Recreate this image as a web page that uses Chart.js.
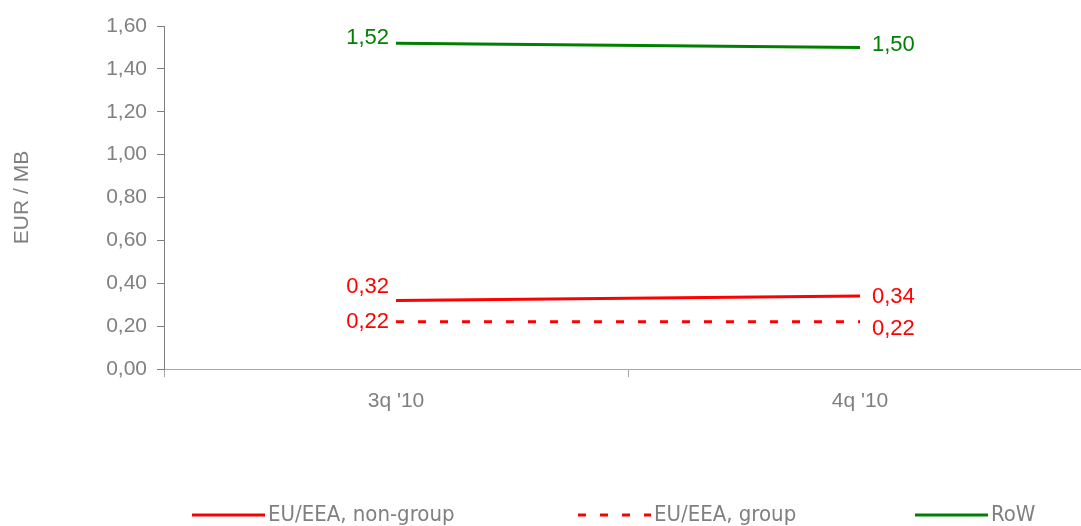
<!DOCTYPE html>
<html>
<head>
<meta charset="utf-8">
<script src="https://cdn.jsdelivr.net/npm/chart.js@4"></script>
<style>
  html, body { margin: 0; padding: 0; background: #fff; overflow: hidden; }
  #wrap { width: 1092px; height: 526px; }
</style>
</head>
<body>
<div id="wrap"><canvas id="chart" width="1092" height="526"></canvas></div>
<script>
// Quarterly price per MB, two quarters of 2010
const quarters = ["3q '10", "4q '10"];
const euNonGroup = [0.32, 0.34];
const euGroup = [0.22, 0.22];
const restOfWorld = [1.52, 1.50];
const yTicks = [0, 0.2, 0.4, 0.6, 0.8, 1.0, 1.2, 1.4, 1.6];

const GREY = '#808080';
const RED = '#ff0000';
const GREEN = '#008000';
const FONT = '"Liberation Sans", Arial, sans-serif';

function fmt(v) {
    return v.toFixed(2).replace('.', ',');
}

// value labels beside the end points (left of first, right of last)
const pointLabels = {
    id: 'pointLabels',
    afterDatasetsDraw(chart) {
        const ctx = chart.ctx;
        ctx.save();
        ctx.font = '22px ' + FONT;
        ctx.textBaseline = 'middle';
        chart.data.datasets.forEach((ds, i) => {
            const meta = chart.getDatasetMeta(i);
            meta.data.forEach((pt, j) => {
                const first = j === 0;
                ctx.fillStyle = ds.borderColor;
                ctx.textAlign = first ? 'right' : 'left';
                ctx.fillText(fmt(ds.data[j]), pt.x + (first ? -7 : 12), pt.y + ds.labelDy[j]);
            });
        });
        ctx.restore();
    }
};

// legend row at the bottom
const bottomLegend = {
    id: 'bottomLegend',
    afterDraw(chart) {
        const ctx = chart.ctx;
        const starts = [192, 578, 915];
        const y = 515;
        ctx.save();
        ctx.font = '22px "Liberation Sans Narrow", "DejaVu Sans Condensed", Arial, sans-serif';
        ctx.textBaseline = 'middle';
        ctx.textAlign = 'left';
        chart.data.datasets.forEach((ds, i) => {
            const x = starts[i];
            ctx.strokeStyle = ds.borderColor;
            ctx.lineWidth = 3;
            ctx.setLineDash(ds.borderDash || []);
            ctx.beginPath();
            ctx.moveTo(x, y);
            ctx.lineTo(x + 73, y);
            ctx.stroke();
            ctx.setLineDash([]);
            ctx.fillStyle = GREY;
            ctx.fillText(ds.label, x + 76, y);
        });
        ctx.restore();
    }
};

new Chart(document.getElementById('chart'), {
    type: 'line',
    data: {
        labels: quarters,
        datasets: [
            {
                label: 'EU/EEA, non-group',
                data: euNonGroup,
                borderColor: RED,
                borderWidth: 3,
                labelDy: [-13, 1]
            },
            {
                label: 'EU/EEA, group',
                data: euGroup,
                borderColor: RED,
                borderWidth: 3,
                borderDash: [8, 14],
                labelDy: [0, 7]
            },
            {
                label: 'RoW',
                data: restOfWorld,
                borderColor: GREEN,
                borderWidth: 3,
                labelDy: [-5, -3]
            }
        ]
    },
    options: {
        responsive: false,
        animation: false,
        elements: { point: { radius: 0 }, line: { tension: 0 } },
        layout: { padding: { top: 26, right: 0, bottom: 100, left: 10 } },
        plugins: {
            legend: { display: false },
            tooltip: { enabled: false }
        },
        scales: {
            x: {
                offset: true,
                grid: { offset: true, drawOnChartArea: false, tickLength: 8, color: '#a6a6a6' },
                border: { color: '#a6a6a6', width: 1 },
                ticks: { color: GREY, font: { family: FONT, size: 21 }, padding: 12, maxRotation: 0 },
                afterFit(scale) { scale.height = 57; }
            },
            y: {
                min: 0,
                max: 1.6,
                afterBuildTicks(scale) { scale.ticks = yTicks.map(v => ({ value: v })); },
                grid: { drawOnChartArea: false, tickLength: 7, color: GREY },
                border: { color: GREY, width: 1 },
                ticks: {
                    color: GREY,
                    font: { family: FONT, size: 21 },
                    padding: 10,
                    callback: v => fmt(v)
                },
                title: {
                    display: true,
                    text: 'EUR / MB',
                    color: GREY,
                    font: { family: FONT, size: 21 },
                    padding: 0
                },
                afterFit(scale) { scale.width = 154; }
            }
        }
    },
    plugins: [pointLabels, bottomLegend]
});
</script>
</body>
</html>
